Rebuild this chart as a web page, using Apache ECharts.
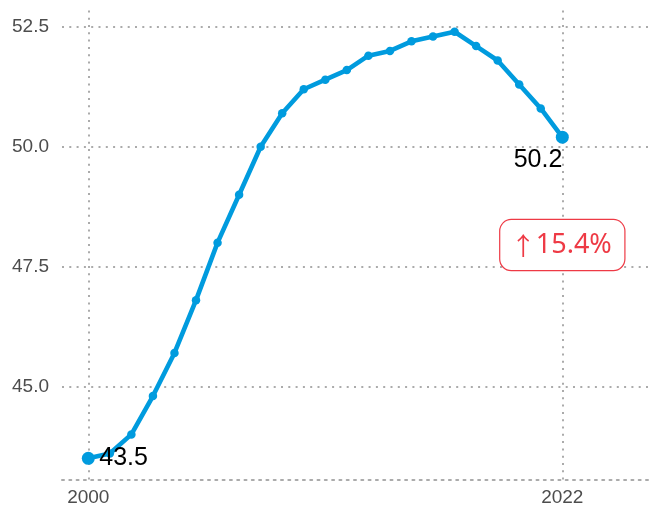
<!DOCTYPE html>
<html>
<head>
<meta charset="utf-8">
<script src="https://cdn.jsdelivr.net/npm/echarts@6/dist/echarts.min.js"></script>
<style>html,body{margin:0;padding:0;background:#fff;}#c{width:650px;height:510px;}</style>
</head>
<body>
<div id="c"></div>
<script>
const years = [2000,2001,2002,2003,2004,2005,2006,2007,2008,2009,2010,2011,2012,2013,2014,2015,2016,2017,2018,2019,2020,2021,2022];
const values = [43.5,43.6,44.0,44.8,45.7,46.8,48.0,49.0,50.0,50.7,51.2,51.4,51.6,51.9,52.0,52.2,52.3,52.4,52.1,51.8,51.3,50.8,50.2];
const yTicks = [45, 47.5, 50, 52.5];
const xTicks = [2000, 2022];
const changeArrow = '\u2191';
const changeText = '15.4%';

const lineColor = '#009bde';
const gridColor = '#ababab';
const dotted = { color: gridColor, width: 2, type: [2, 5.3] };

const n = values.length;
const data = values.map((v, i) => {
  const item = { value: [years[i], v] };
  if (i === 0) {
    item.symbolSize = 13;
    item.label = { show: true, position: 'right', distance: 4.5, formatter: v.toFixed(1) };
  } else if (i === n - 1) {
    item.symbolSize = 13;
    item.label = { show: true, position: [6.5, 17], align: 'right', verticalAlign: 'top', formatter: v.toFixed(1) };
  }
  return item;
});

const chart = echarts.init(document.getElementById('c'), null, { renderer: 'canvas' });
chart.setOption({
  animation: false,
  backgroundColor: '#ffffff',
  grid: { left: 62, right: 0, top: 10.4, bottom: 30.3, containLabel: false },
  xAxis: {
    type: 'value',
    min: 1998.78, max: 2026.07,
    axisLine: { show: true, lineStyle: dotted },
    axisTick: { show: false, customValues: xTicks },
    axisLabel: { customValues: xTicks, color: '#4d4d4d', fontSize: 19, fontFamily: 'Liberation Sans', margin: 9, formatter: v => String(v) },
    splitLine: { show: true, lineStyle: dotted }
  },
  yAxis: {
    type: 'value',
    min: 43.055, max: 52.845,
    axisLine: { show: false },
    axisTick: { show: false, customValues: yTicks },
    axisLabel: { customValues: yTicks, color: '#4d4d4d', fontSize: 19, fontFamily: 'Liberation Sans', margin: 13, formatter: v => v.toFixed(1) },
    splitLine: { show: true, lineStyle: dotted }
  },
  series: [{
    type: 'line',
    data: data,
    symbol: 'circle',
    symbolSize: 8.5,
    showAllSymbol: true,
    lineStyle: { color: lineColor, width: 4.6 },
    itemStyle: { color: lineColor },
    label: { color: '#000', fontSize: 25, fontFamily: 'Liberation Sans' },
    z: 5,
    markPoint: {
      symbol: 'rect',
      symbolSize: 1,
      itemStyle: { color: 'rgba(0,0,0,0)' },
      data: [{
        coord: [years[n - 1], (values[0] + Math.max(...values)) / 2],
        label: {
          show: true, position: 'inside',
          formatter: '{a|' + changeArrow + '}{b|' + changeText + '}',
          backgroundColor: '#ffffff', borderColor: '#ee3a45', borderWidth: 1.2, borderRadius: 11,
          padding: [10, 12.5, 10, 10.5],
          rich: {
            a: { color: '#ee3a45', fontSize: 25, fontFamily: 'Noto Sans CJK SC', lineHeight: 30 },
            b: { color: '#ee3a45', fontSize: 27, fontFamily: 'Noto Sans', lineHeight: 30 }
          }
        }
      }]
    }
  }]
});
</script>
</body>
</html>
